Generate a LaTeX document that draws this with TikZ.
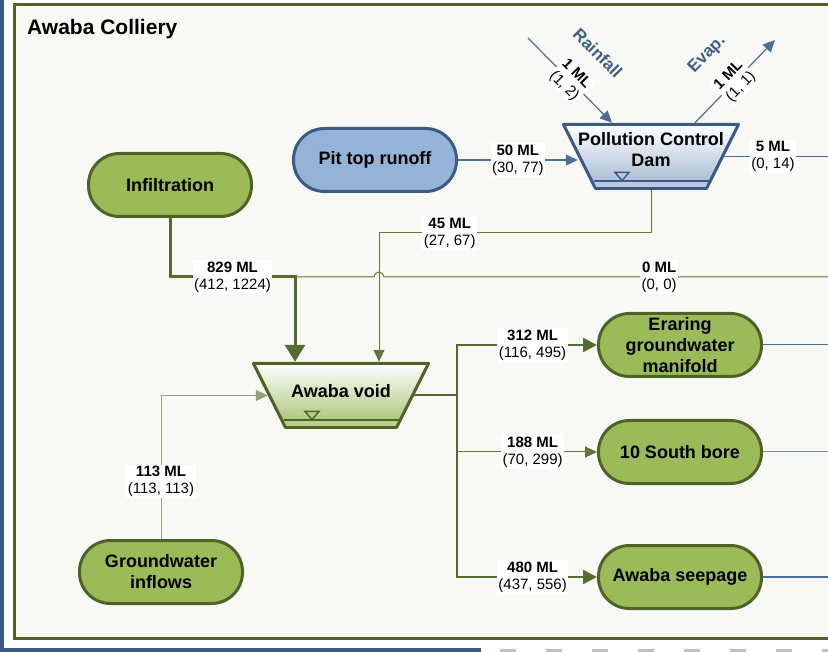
\documentclass[tikz,border=0pt]{standalone}
\usepackage{fontspec}
\setmainfont{Liberation Sans}
\usetikzlibrary{arrows.meta,calc}

\definecolor{leaf}{HTML}{9BBB59}
\definecolor{leafline}{HTML}{4F6228}
\definecolor{leafband}{HTML}{B7CF8A}
\definecolor{leafshade}{HTML}{A3C06C}
\definecolor{sky}{HTML}{95B3D7}
\definecolor{skyline}{HTML}{3B5B84}
\definecolor{skyband}{HTML}{B9C9DE}
\definecolor{skyshade}{HTML}{A2B6D2}
\definecolor{skytext}{HTML}{3F5F86}
\definecolor{pipe}{HTML}{556B2F}
\definecolor{pipethin}{HTML}{62763A}
\definecolor{pipepale}{HTML}{93A17A}
\definecolor{bluepipe}{HTML}{4C6D95}
\definecolor{greypipe}{HTML}{7389A6}
\definecolor{paper}{HTML}{F8F8F4}
\definecolor{edge}{HTML}{3A5A85}

\newcommand\namefont{\fontsize{18}{21}\selectfont\bfseries}
\newcommand\labelfont{\fontsize{15}{17}\selectfont}
\newcommand\flowlbl[2]{\textbf{#1 ML}\\(#2)}
% tank outline, water level band and marker round a node
\newcommand\tankshape[4]{%
  \begin{scope}[shift={(#1.center)}]
    \shade[draw=#2, line width=3pt, line join=round, top color=white, bottom color=#3]
      (-87.5,-32) -- (87.5,-32) -- (55.5,32) -- (-55.5,32) -- cycle;
    \fill[#4] (-57,25) -- (57,25) -- (54.5,30.5) -- (-54.5,30.5) -- cycle;
    \draw[#2, line width=2pt] (-57.5,25) -- (57.5,25);
    \draw[#2, line width=1.5pt, fill=#4] (-36,16) -- (-22,16) -- (-29,24) -- cycle;
  \end{scope}}

\begin{document}
\begin{tikzpicture}[x=1pt, y=-1pt,
    >={Triangle[length=12pt,width=11pt]},
    pill/.style={rectangle, rounded corners=31pt, draw=leafline, fill=leaf,
      line width=3pt, minimum width=163pt, minimum height=63pt,
      align=center, inner sep=2pt, font=\namefont},
    bluepill/.style={pill, draw=skyline, fill=sky},
    tank/.style={rectangle, minimum width=146pt, minimum height=67pt, inner sep=0pt},
    lbl/.style={fill=white, inner sep=1.5pt, align=center, font=\labelfont},
    skyword/.style={text=skytext, font=\fontsize{17}{20}\selectfont\bfseries},
    bigpipe/.style={draw=pipe, line width=3pt},
    midpipe/.style={draw=pipe, line width=2pt},
    thinpipe/.style={draw=pipethin, line width=1pt},
    palepipe/.style={draw=pipepale, line width=1pt},
    skypipe/.style={draw=bluepipe, line width=1.2pt}
  ]
  \useasboundingbox (0,0) rectangle (828,652);
  \fill[white] (0,0) rectangle (828,652);
  \fill[edge] (0,0) rectangle (4,652);
  \fill[edge] (0,648) rectangle (481,652);
  \draw[gray!50, line width=3pt, dash pattern=on 16pt off 30pt] (500,650.5) -- (828,650.5);
  \draw[leafline, line width=3.5pt, fill=paper] (14.7,4.7) rectangle (840,638.3);

  \node[anchor=base west, inner sep=0pt, font=\fontsize{21}{25}\selectfont\bfseries] (title) at (27,35) {Awaba Colliery};

  % sources and sinks
  \node[pill] (inf) at (170,185) {Infiltration};
  \node[bluepill] (pit) at (375,160) {Pit top runoff};
  \node[pill, inner ysep=0pt] (era) at (680,345) {Eraring\\groundwater\\manifold};
  \node[pill] (bore) at (680,452) {10 South bore};
  \node[pill] (seep) at (680,577) {Awaba seepage};
  \node[pill] (gwi) at (161,572) {Groundwater\\inflows};

  % storages
  \node[tank] (pcd) at (651,156.5) {};
  \tankshape{pcd}{skyline}{skyshade}{skyband}
  \node[font=\namefont, align=center] (pcdname) at ([yshift=7pt]pcd.center) {Pollution Control\\Dam};
  \node[tank] (void) at (341,395.5) {};
  \tankshape{void}{leafline}{leafshade}{leafband}
  \node[font=\namefont] (voidname) at ([yshift=4pt]void.center) {Awaba void};

  \coordinate (jn) at (295,277);
  \coordinate (c45) at (379,233);
  \coordinate (split) at (457,395.5);
  \coordinate (rim) at (835,0);
  \coordinate (rain) at (528,38);
  \coordinate (evap) at (775,40);

  % flows
  \draw[bigpipe, -{Triangle[length=17pt,width=20pt]}] (inf.south) |- node[lbl, pos=0.75] {\flowlbl{829}{412, 1224}} (jn) -- (jn |- void.north);
  \draw[thinpipe] (jn) -- ($(jn -| c45)+(-5,0)$) arc[start angle=180, end angle=0, radius=5pt]
    -- node[lbl, pos=0.61] {\flowlbl{0}{0, 0}} (jn -| rim);
  \draw[thinpipe, ->] (pcd.south) |- node[lbl, pos=0.87] {\flowlbl{45}{27, 67}} (c45) -- (c45 |- void.north);
  \draw[palepipe, ->] (gwi.north) |- node[lbl, pos=0.2] {\flowlbl{113}{113, 113}} (void.west);

  \draw[skypipe, ->] (pit.east) -- node[lbl] {\flowlbl{50}{30, 77}} (pit.east -| pcd.west);
  \draw[skypipe, ->] (rain) -- node[lbl, sloped] {\flowlbl{1}{1, 2}}
    node[sloped, above=29pt, skyword] {Rainfall} ([xshift=-39pt]pcd.north);
  \draw[skypipe, ->] ([xshift=44pt]pcd.north) -- node[lbl, sloped] {\flowlbl{1}{1, 1}}
    node[sloped, above=27pt, skyword] {Evap.} (evap);
  \draw[skypipe, line width=1pt] (pcd.east) -- node[lbl, pos=0.44] {\flowlbl{5}{0, 14}} (pcd.east -| rim);

  \draw[midpipe] (void.east) -- (split);
  \draw[thinpipe, ->] (split) |- node[lbl, pos=0.77] {\flowlbl{188}{70, 299}} (bore.west);
  \draw[midpipe, -{Triangle[length=14pt,width=14pt]}] (split) |- node[lbl, pos=0.77] {\flowlbl{312}{116, 495}} (era.west);
  \draw[midpipe, -{Triangle[length=14pt,width=14pt]}] (split) |- node[lbl, pos=0.77] {\flowlbl{480}{437, 556}} (seep.west);

  \draw[skypipe, line width=1pt] (era.east) -- (era.east -| rim);
  \draw[draw=greypipe, line width=1pt] (bore.east) -- (bore.east -| rim);
  \draw[skypipe, line width=2pt] (seep.east) -- (seep.east -| rim);
\end{tikzpicture}
\end{document}
